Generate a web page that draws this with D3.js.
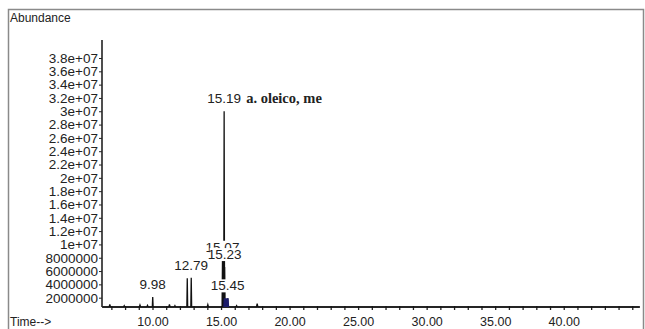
<!DOCTYPE html>
<html>
<head>
<meta charset="utf-8">
<script src="https://cdn.jsdelivr.net/npm/d3@7"></script>
<style>
  body { margin: 0; background: #fff; }
</style>
</head>
<body>
<div id="chart"></div>
<script>
// retention time (min) and abundance of the labelled peaks
const peakTimes   = [9.98, 12.50, 12.79, 15.07, 15.19, 15.23, 15.45];
const peakHeights = [2.1e6, 4.9e6, 5.0e6, 7.7e6, 3.0e7, 6.6e6, 1.9e6];
const peakLabels  = ["9.98", "", "12.79", "15.07", "15.19", "15.23", "15.45"];

// small unlabelled bumps on the baseline
const noiseTimes   = [6.85, 7.9, 9.05, 9.6, 11.2, 11.6, 14.0, 16.1, 17.6];
const noiseHeights = [1.0e6, 0.8e6, 0.9e6, 0.85e6, 1.0e6, 0.8e6, 0.95e6, 0.8e6, 1.1e6];

// dense blob under 15.45 (drawn filled)
const blobTimes   = [15.12, 15.16, 15.25, 15.35, 15.45, 15.52, 15.56];
const blobHeights = [0.6e6, 1.9e6, 1.9e6, 1.9e6, 1.9e6, 1.9e6, 0.6e6];

const baseline = 6e5;
const yTicks = d3.range(2e6, 3.8e7 + 1, 2e6);
const xTicks = [10, 15, 20, 25, 30, 35, 40];

const width = 645, height = 329;
const sans = "Liberation Sans, Arial, sans-serif";

const svg = d3.select("#chart").append("svg")
  .attr("width", width)
  .attr("height", height)
  .style("font-family", sans);

// window frame
svg.append("rect")
  .attr("x", 8.5).attr("y", 9.5)
  .attr("width", 635).attr("height", 330)
  .attr("fill", "none")
  .attr("stroke", "#8a8a8a")
  .attr("stroke-width", 1.5);

const x = d3.scaleLinear().domain([6.28, 45.6]).range([102, 641]);
const y = d3.scaleLinear().domain([0, 3.8e7]).range([311, 58]);

// y axis
const yAxis = d3.axisLeft(y)
  .tickValues(yTicks)
  .tickSize(3)
  .tickPadding(1)
  .tickFormat(d => d >= 1e7 ? d3.format(".2~e")(d).replace("e+", "e+0") : d3.format("d")(d));
svg.append("g")
  .attr("transform", "translate(102,0)")
  .call(yAxis)
  .call(g => g.select(".domain").remove())
  .call(g => g.selectAll("text").attr("font-size", 13.5).attr("fill", "#222")
    .attr("font-family", sans))
  .call(g => g.selectAll("line").attr("stroke", "#222"));
svg.append("line")
  .attr("x1", 102).attr("x2", 102)
  .attr("y1", 40).attr("y2", y(baseline))
  .attr("stroke", "#222").attr("stroke-width", 1.6);

// x axis
const xAxisY = y(baseline);
svg.append("line")
  .attr("x1", 102).attr("x2", 640)
  .attr("y1", xAxisY).attr("y2", xAxisY)
  .attr("stroke", "#333").attr("stroke-width", 1.4);
svg.append("g")
  .selectAll("line")
  .data(d3.range(7, 46))
  .join("line")
  .attr("x1", d => x(d)).attr("x2", d => x(d))
  .attr("y1", xAxisY - 1).attr("y2", xAxisY + 3)
  .attr("stroke", "#222").attr("stroke-width", 1.3);
svg.append("g")
  .selectAll("text")
  .data(xTicks)
  .join("text")
  .attr("x", d => x(d))
  .attr("y", 326)
  .attr("text-anchor", "middle")
  .attr("font-size", 12.5)
  .attr("fill", "#222")
  .text(d => d.toFixed(2));

svg.append("text").attr("x", 10).attr("y", 22)
  .attr("font-size", 12).attr("fill", "#222").text("Abundance");
svg.append("text").attr("x", 10).attr("y", 326)
  .attr("font-size", 12).attr("fill", "#222").text("Time-->");

// chromatogram trace
const peaks = peakTimes.map((t, i) => ({ t, h: peakHeights[i], w: 0.03 }))
  .concat(noiseTimes.map((t, i) => ({ t, h: noiseHeights[i], w: 0.05 })))
  .sort((a, b) => a.t - b.t);
const pts = [[6.3, baseline]];
peaks.forEach(p => {
  pts.push([p.t - p.w, baseline], [p.t, p.h], [p.t + p.w, baseline]);
});
pts.push([45.5, baseline]);
const line = d3.line().x(d => x(d[0])).y(d => y(d[1]));
svg.append("path")
  .attr("d", line(pts))
  .attr("fill", "none")
  .attr("stroke", "#111")
  .attr("stroke-width", 1.3);

// filled blob
const area = d3.area().x(d => x(d[0])).y0(y(baseline)).y1(d => y(d[1]));
svg.append("path")
  .attr("d", area(blobTimes.map((t, i) => [t, blobHeights[i]])))
  .attr("fill", "#1c1c6a");

// peak labels (with white backing that hides the trace)
const labels = peakTimes.map((t, i) => ({ t, h: peakHeights[i], s: peakLabels[i] }))
  .filter(d => d.s);
const lab = svg.append("g").selectAll("g")
  .data(labels)
  .join("g")
  .attr("transform", d => `translate(${x(d.t)},${y(d.h) - 8})`);
lab.append("rect")
  .attr("x", -15).attr("y", -11).attr("width", 30).attr("height", 13)
  .attr("fill", "#fff");
lab.append("text")
  .attr("text-anchor", "middle")
  .attr("font-size", 13.5)
  .attr("fill", "#222")
  .text(d => d.s);

// compound name on the main peak
const main = labels.find(d => d.s === "15.19");
svg.append("text")
  .attr("x", x(main.t) + 22)
  .attr("y", y(main.h) - 8)
  .style("font-family", "Liberation Serif, 'DejaVu Serif', serif")
  .attr("font-weight", "bold")
  .attr("font-size", 14.5)
  .attr("fill", "#222")
  .text("a. oleico, me");
</script>
</body>
</html>
